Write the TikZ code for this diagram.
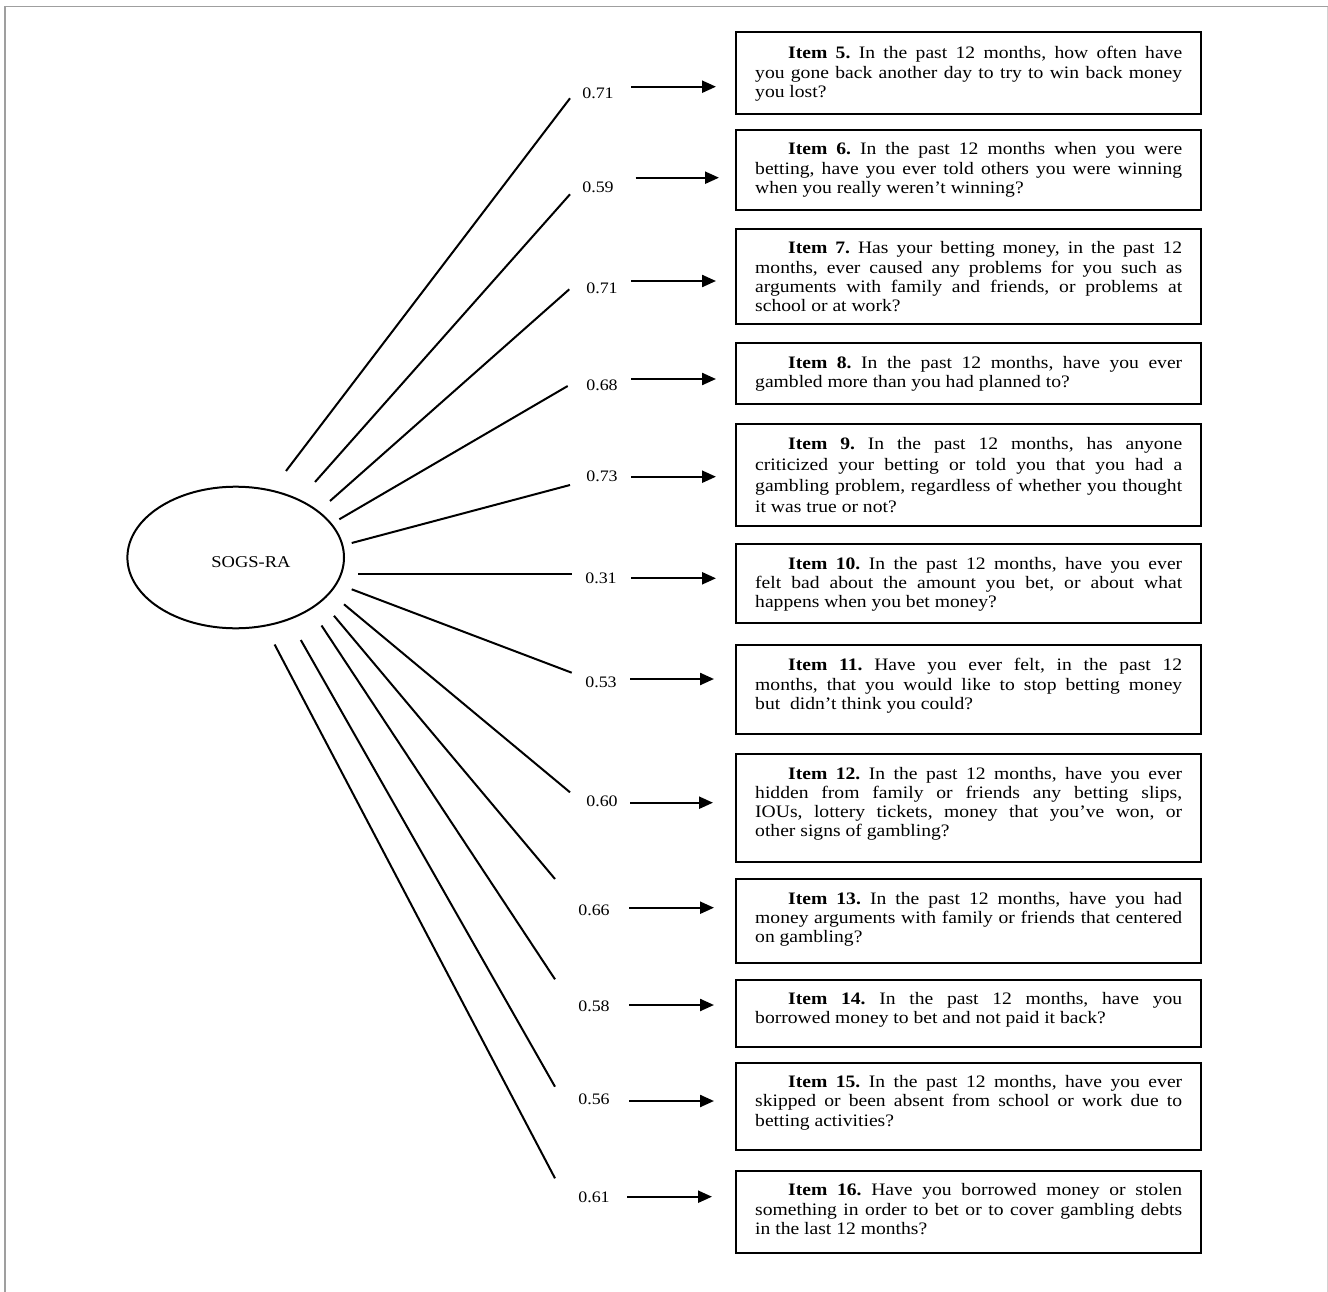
\documentclass[tikz,border=0pt]{standalone}
\usepackage{fontspec}
\setmainfont{Liberation Serif}[FakeStretch=1.12]
\usetikzlibrary{arrows.meta,shapes.geometric}
\newlength\itemw
\setlength\itemw{427pt}
\newcommand\jline[1]{\noindent\hbox to 427pt{\spaceskip=4.9pt plus 1fil\relax #1}}
\newcommand\fline[1]{\noindent\hbox to 427pt{\spaceskip=4.9pt plus 1fil\relax\rule{0pt}{13pt}\hspace*{33pt}#1}}
\newcommand\lline[1]{\noindent\hbox to 427pt{\spaceskip=4.9pt\relax #1\hfil}}
\newcommand\itemfont[1]{\fontsize{17.5}{#1}\selectfont\frenchspacing}
\begin{document}
\begin{tikzpicture}[x=1pt,y=-1pt,
  itembox/.style={draw, line width=2.4pt, minimum width=465pt, inner sep=0pt},
  itemtext/.style={anchor=north west, inner sep=0pt, text width=427pt, align=left, font=\itemfont{19.3}},
  loadlab/.style={font=\fontsize{16}{18}\selectfont, inner sep=0pt},
  loadline/.style={line width=2pt},
  arr/.style={line width=2.3pt, -{Triangle[length=14pt,width=12pt]}},
  framel/.style={line width=1.5pt}
]
\useasboundingbox (0,0) rectangle (1328,1292);
% frame
\coordinate (ftl) at (5,6.7);
\coordinate (ftr) at (1327,6.7);
\coordinate (fbl) at (5,1292);
\coordinate (fbr) at (1327,1292);
\draw[framel, gray!75] (fbl) -- (ftl) -- (1328,6.7);
\draw[line width=1pt, gray!35] (ftr) -- (fbr);

% latent variable
\node[draw, ellipse, line width=2pt, inner sep=0pt, minimum width=216.6pt, minimum height=141.6pt] (sogs) at (235.7,557.5) {};
\node[font=\fontsize{16.5}{18}\selectfont, inner sep=0pt] (sogslab) at (251,561.7) {SOGS-RA};

% item boxes
\node[itembox, minimum height=82pt]  (b5)  at (968.5,73) {};
\node[itembox, minimum height=80pt]  (b6)  at (968.5,170) {};
\node[itembox, minimum height=95pt]  (b7)  at (968.5,276.5) {};
\node[itembox, minimum height=61pt]  (b8)  at (968.5,373.5) {};
\node[itembox, minimum height=102pt] (b9)  at (968.5,475) {};
\node[itembox, minimum height=79pt]  (b10) at (968.5,583.5) {};
\node[itembox, minimum height=89pt]  (b11) at (968.5,689.5) {};
\node[itembox, minimum height=108pt] (b12) at (968.5,808) {};
\node[itembox, minimum height=84pt]  (b13) at (968.5,921) {};
\node[itembox, minimum height=67pt]  (b14) at (968.5,1013.5) {};
\node[itembox, minimum height=87pt]  (b15) at (968.5,1106.5) {};
\node[itembox, minimum height=82pt]  (b16) at (968.5,1212) {};

% item texts
\node[itemtext] (t5) at (755,45.8) {%
\fline{\textbf{Item 5.} In the past 12 months, how often have}\\
\jline{you gone back another day to try to win back money}\\
\lline{you lost?}};
\node[itemtext] (t6) at (755,141.8) {%
\fline{\textbf{Item 6.} In the past 12 months when you were}\\
\jline{betting, have you ever told others you were winning}\\
\lline{when you really weren’t winning?}};
\node[itemtext] (t7) at (755,240.8) {%
\fline{\textbf{Item 7.} Has your betting money, in the past 12}\\
\jline{months, ever caused any problems for you such as}\\
\jline{arguments with family and friends, or problems at}\\
\lline{school or at work?}};
\node[itemtext] (t8) at (755,355.2) {%
\fline{\textbf{Item 8.} In the past 12 months, have you ever}\\
\lline{gambled more than you had planned to?}};
\node[itemtext, font=\itemfont{20.8}] (t9) at (755,436.5) {%
\fline{\textbf{Item 9.} In the past 12 months, has anyone}\\
\jline{criticized your betting or told you that you had a}\\
\jline{gambling problem, regardless of whether you thought}\\
\lline{it was true or not?}};
\node[itemtext] (t10) at (755,555.8) {%
\fline{\textbf{Item 10.} In the past 12 months, have you ever}\\
\jline{felt bad about the amount you bet, or about what}\\
\lline{happens when you bet money?}};
\node[itemtext] (t11) at (755,657.5) {%
\fline{\textbf{Item 11.} Have you ever felt, in the past 12}\\
\jline{months, that you would like to stop betting money}\\
\lline{but \ didn’t think you could?}};
\node[itemtext] (t12) at (755,765.8) {%
\fline{\textbf{Item 12.} In the past 12 months, have you ever}\\
\jline{hidden from family or friends any betting slips,}\\
\jline{IOUs, lottery tickets, money that you’ve won, or}\\
\lline{other signs of gambling?}};
\node[itemtext] (t13) at (755,890.8) {%
\fline{\textbf{Item 13.} In the past 12 months, have you had}\\
\jline{money arguments with family or friends that centered}\\
\lline{on gambling?}};
\node[itemtext] (t14) at (755,990.8) {%
\fline{\textbf{Item 14.} In the past 12 months, have you}\\
\lline{borrowed money to bet and not paid it back?}};
\node[itemtext] (t15) at (755,1074.2) {%
\fline{\textbf{Item 15.} In the past 12 months, have you ever}\\
\jline{skipped or been absent from school or work due to}\\
\lline{betting activities?}};
\node[itemtext] (t16) at (755,1182.5) {%
\fline{\textbf{Item 16.} Have you borrowed money or stolen}\\
\jline{something in order to bet or to cover gambling debts}\\
\lline{in the last 12 months?}};

% loading labels
\node[loadlab] (l5)  at (598,93)   {0.71};
\node[loadlab] (l6)  at (598,187)  {0.59};
\node[loadlab] (l7)  at (602,288)  {0.71};
\node[loadlab] (l8)  at (602,385)  {0.68};
\node[loadlab] (l9)  at (602,476)  {0.73};
\node[loadlab] (l10) at (601,578)  {0.31};
\node[loadlab] (l11) at (601,682)  {0.53};
\node[loadlab] (l12) at (602,801)  {0.60};
\node[loadlab] (l13) at (594,910)  {0.66};
\node[loadlab] (l14) at (594,1006) {0.58};
\node[loadlab] (l15) at (594,1099) {0.56};
\node[loadlab] (l16) at (594,1197) {0.61};

% loading line end points
\coordinate (s5)  at (286,471);    \coordinate (e5)  at (570,98.3);
\coordinate (s6)  at (315,482);    \coordinate (e6)  at (570,194.3);
\coordinate (s7)  at (330,501);    \coordinate (e7)  at (569.3,289.3);
\coordinate (s8)  at (339.3,519.3);\coordinate (e8)  at (567.7,386);
\coordinate (s9)  at (351.7,543);  \coordinate (e9)  at (570,485);
\coordinate (s10) at (358.3,574.3);\coordinate (e10) at (571.7,574.3);
\coordinate (s11) at (351.7,589.3);\coordinate (e11) at (571.7,672.7);
\coordinate (s12) at (344,604.3);  \coordinate (e12) at (570,792.3);
\coordinate (s13) at (334,615.8);  \coordinate (e13) at (555,879);
\coordinate (s14) at (321.5,625.5);\coordinate (e14) at (555,979.3);
\coordinate (s15) at (300.8,640);  \coordinate (e15) at (555,1086.7);
\coordinate (s16) at (274.6,644.5);\coordinate (e16) at (555,1178.3);
\foreach \i in {5,...,16} { \draw[loadline] (s\i) -- (e\i); }

% arrow end points
\coordinate (a5)  at (631,86.7);   \coordinate (z5)  at (716,86.7);
\coordinate (a6)  at (635.7,177.7);\coordinate (z6)  at (719,177.7);
\coordinate (a7)  at (631,281);    \coordinate (z7)  at (716,281);
\coordinate (a8)  at (631,379);    \coordinate (z8)  at (716,379);
\coordinate (a9)  at (631,476.7);  \coordinate (z9)  at (716,476.7);
\coordinate (a10) at (631,578.3);  \coordinate (z10) at (716,578.3);
\coordinate (a11) at (630,679);    \coordinate (z11) at (714,679);
\coordinate (a12) at (630,802.7);  \coordinate (z12) at (713,802.7);
\coordinate (a13) at (629,907.7);  \coordinate (z13) at (714,907.7);
\coordinate (a14) at (629,1005);   \coordinate (z14) at (714,1005);
\coordinate (a15) at (629,1101);   \coordinate (z15) at (714,1101);
\coordinate (a16) at (627,1196.7); \coordinate (z16) at (712,1196.7);
\foreach \i in {5,...,16} { \draw[arr] (a\i) -- (z\i); }
\end{tikzpicture}
\end{document}
